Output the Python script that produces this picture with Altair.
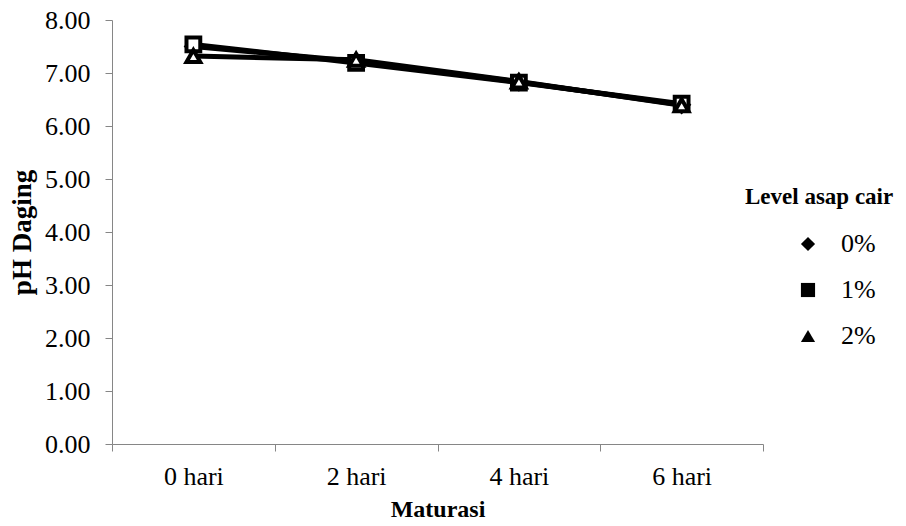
import altair as alt
import pandas as pd

days = [0, 2, 4, 6]
levels = ["0%", "1%", "2%"]
ph_0 = [7.50, 7.22, 6.83, 6.40]
ph_1 = [7.54, 7.19, 6.82, 6.42]
ph_2 = [7.32, 7.25, 6.84, 6.39]
marker_shapes = ["diamond", "square", "triangle-up"]

rows = []
for lvl, vals in zip(levels, [ph_0, ph_1, ph_2]):
    for d, v in zip(days, vals):
        rows.append({"day": d, "level": lvl, "ph": v})
df = pd.DataFrame(rows)

FONT = "Liberation Serif"
GRAY = "#868686"

x_scale = alt.Scale(domain=[-1, 7], nice=False, zero=False)
y_scale = alt.Scale(domain=[0, 8], nice=False)

base = alt.Chart(df)

lines = base.mark_line(color="black", strokeWidth=5).encode(
    x=alt.X("day:Q", scale=x_scale,
            axis=alt.Axis(orient="bottom", values=[-1, 1, 3, 5, 7], labels=False, title=None,
                          tickSize=7, grid=False, domainColor=GRAY, tickColor=GRAY)),
    y=alt.Y("ph:Q", scale=y_scale,
            axis=alt.Axis(values=[0, 1, 2, 3, 4, 5, 6, 7, 8], format=".2f", title="pH Daging",
                          tickSize=7, labelPadding=15, grid=False, domainColor=GRAY,
                          tickColor=GRAY, titlePadding=8, titleFontSize=27)),
    detail="level:N",
)

point_layers = []
for i, (lvl, shp) in enumerate(zip(levels, marker_shapes)):
    ax = None
    if i == 0:
        ax = alt.Axis(orient="bottom", values=days, labelExpr="datum.value + ' hari'",
                      ticks=False, domain=False, grid=False, title="Maturasi",
                      labelPadding=19, titlePadding=8)
    xenc = alt.X("day:Q", scale=x_scale, axis=ax)
    point_layers.append(
        base.transform_filter(alt.datum.level == lvl).mark_point(
            shape=shp, filled=False, fill="white", fillOpacity=1, stroke="black",
            strokeWidth=4, size=190, opacity=1
        ).encode(x=xenc, y=alt.Y("ph:Q", scale=y_scale))
    )

legend_layer = base.mark_point(
    filled=True, color="black", opacity=1
).encode(
    x=alt.X("day:Q", scale=x_scale, axis=None),
    y=alt.Y("ph:Q", scale=y_scale),
    shape=alt.Shape("level:N", scale=alt.Scale(domain=levels, range=marker_shapes),
                    legend=alt.Legend(title="Level asap cair", orient="none",
                                      legendX=633, legendY=166, symbolSize=200,
                                      symbolOffset=50, labelOffset=20, rowPadding=20,
                                      padding=0, titlePadding=22)),
    size=alt.value(0),
)

chart = alt.layer(lines, *point_layers, legend_layer).resolve_axis(
    x="independent"
).properties(
    width=651, height=424,
    autosize=alt.AutoSizeParams(type="none"),
    padding={"left": 104, "top": 12, "right": 135, "bottom": 74},
).configure_view(stroke=None).configure_axis(
    labelFont=FONT, titleFont=FONT, labelFontSize=26, titleFontSize=24,
    labelColor="black", titleColor="black", titleFontWeight="bold",
).configure_legend(
    labelFont=FONT, titleFont=FONT, labelFontSize=26, titleFontSize=23,
    labelColor="black", titleColor="black", titleFontWeight="bold",
)

chart.save("out.html", embed_options={"renderer": "svg", "actions": False})
